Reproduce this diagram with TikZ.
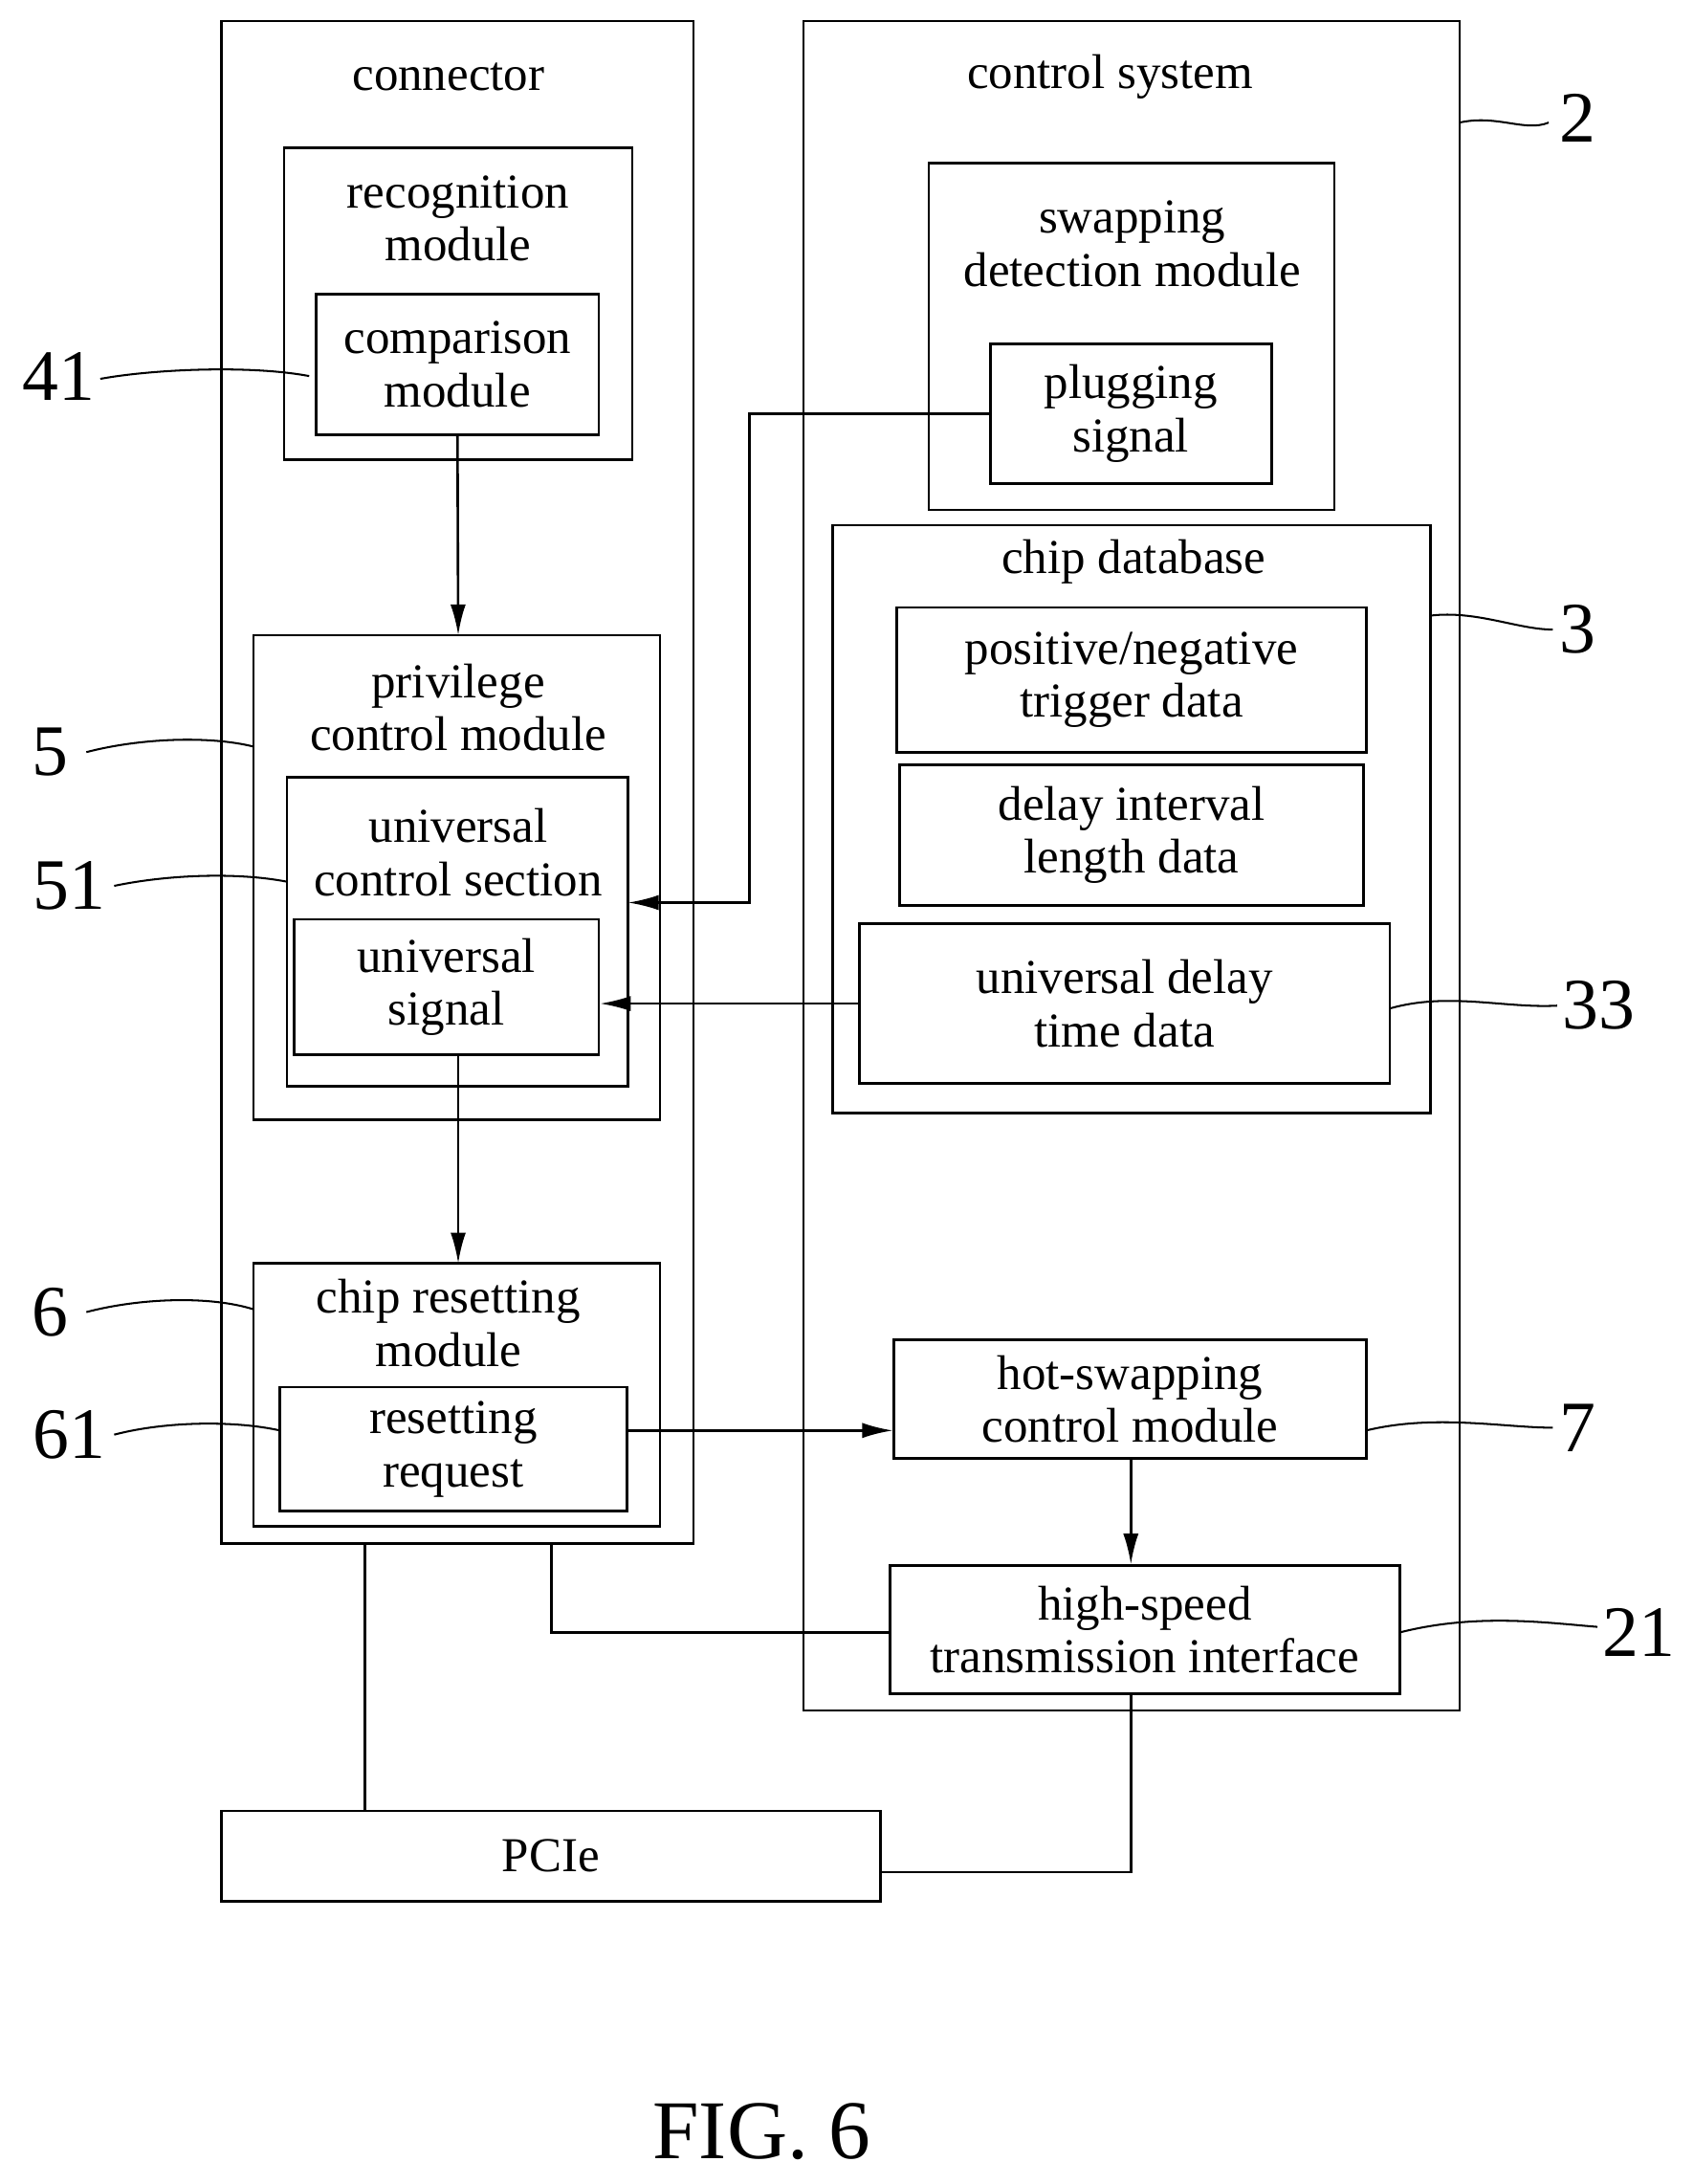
\documentclass[tikz,border=0pt]{standalone}
\usetikzlibrary{arrows.meta}
\usepackage{fontspec}
\setmainfont{Liberation Serif}
\begin{document}
\begin{tikzpicture}[x=1pt,y=-1pt,line width=1.8pt,
  box/.style={draw,rectangle},
  txt/.style={font=\fontsize{35}{38}\selectfont,align=center,inner sep=0},
  lab/.style={font=\fontsize{52}{52}\selectfont,inner sep=0},
  arr/.style={-{Latex[length=22pt,width=11pt]}},
  lead/.style={line width=1.4pt}]
\useasboundingbox (0,0) rectangle (1216,1568);
% outer boxes
\draw (159,15) rectangle (498,1108);
\node[txt] (tconn) at (322,55) {connector};
\draw (577,15) rectangle (1048,1228);
\node[txt] (tctrl) at (797,55) {control system};
% connector side
\draw (204,106) rectangle (454,330);
\node[txt] (trec) at (329,157) {recognition\\module};
\node[box,txt,minimum width=203pt,minimum height=101pt] (cmp) at (328.5,261.5) {comparison\\module};
\draw (182,456) rectangle (474,804);
\coordinate (priv) at (329,456);
\node[txt] (tpriv) at (329,508) {privilege\\control module};
\draw (206,558) rectangle (451,780);
\coordinate (ucs) at (451,648);
\node[txt] (tucs) at (329,612) {universal\\control section};
\node[box,txt,minimum width=219pt,minimum height=97pt] (usig) at (320.5,708.5) {universal\\signal};
\draw (182,907) rectangle (474,1096);
\coordinate (crm) at (329,907);
\node[txt] (tcrm) at (322,950) {chip resetting\\module};
\node[box,txt,minimum width=249pt,minimum height=89pt] (rr) at (325.5,1040.5) {resetting\\request};
% control side
\draw (667,117) rectangle (958,366);
\node[txt] (tswap) at (813,175) {swapping\\detection module};
\node[box,txt,minimum width=202pt,minimum height=100pt] (plug) at (812,297) {plugging\\signal};
\draw (598,377) rectangle (1027,799);
\node[txt] (tdb) at (814,403) {chip database};
\node[box,txt,minimum width=337pt,minimum height=104pt] (pn) at (812.5,488) {positive/negative\\trigger data};
\node[box,txt,minimum width=333pt,minimum height=101pt] (di) at (812.5,599.5) {delay interval\\length data};
\node[box,txt,minimum width=381pt,minimum height=115pt] (ud) at (807.5,720.5) {universal delay\\time data};
\node[box,txt,minimum width=339pt,minimum height=85pt] (hs) at (811.5,1004.5) {hot-swapping\\control module};
\node[box,txt,minimum width=366pt,minimum height=92pt] (hst) at (822,1170) {high-speed\\transmission interface};
\node[box,txt,minimum width=473pt,minimum height=65pt] (pcie) at (395.5,1332.5) {PCIe};
% connectors
\draw[arr] (cmp.south) -- (priv);
\draw[arr] (plug.west) -- (538,297) -- (538,648) -- (ucs);
\draw[arr] (ud.west) -- (usig.east |- ud.west);
\draw[arr] (usig.south -| crm) -- (crm);
\draw[arr] (rr.east |- 0,1027) -- (hs.west |- 0,1027);
\draw[arr] (hs.south -| 812,0) -- (hst.north -| 812,0);
\draw (396,1108) -- (396,1172) -- (hst.west |- 0,1172);
\draw (262,1108) -- (pcie.north -| 262,0);
\draw (hst.south -| 812,0) -- (812,1344) -- (pcie.east |- 0,1344);
% labels
\node[lab] (l2) at (1133,85) {2};
\draw[lead] (1048,88) .. controls (1075,82) and (1095,95) .. (1112,88);
\node[lab] (l3) at (1133,452) {3};
\draw[lead] (1027,442) .. controls (1060,438) and (1090,452) .. (1115,452);
\node[lab] (l33) at (1148,722) {33};
\draw[lead] (998,724) .. controls (1040,712) and (1080,724) .. (1118,722);
\node[lab] (l7) at (1133,1025) {7};
\draw[lead] (981,1027) .. controls (1030,1015) and (1080,1025) .. (1115,1025);
\node[lab] (l21) at (1177,1172) {21};
\draw[lead] (1005,1172) .. controls (1060,1158) and (1110,1165) .. (1147,1168);
\node[lab] (l41) at (42,270) {41};
\draw[lead] (72,272) .. controls (110,265) and (180,262) .. (222,270);
\node[lab] (l5) at (36,540) {5};
\draw[lead] (62,540) .. controls (100,530) and (150,528) .. (182,536);
\node[lab] (l51) at (50,636) {51};
\draw[lead] (82,636) .. controls (120,628) and (170,626) .. (206,633);
\node[lab] (l6) at (36,942) {6};
\draw[lead] (62,942) .. controls (100,932) and (150,930) .. (182,940);
\node[lab] (l61) at (50,1030) {61};
\draw[lead] (82,1030) .. controls (120,1020) and (170,1020) .. (201,1027);
\node[font=\fontsize{60}{60}\selectfont] (fig) at (547,1530) {FIG. 6};
\end{tikzpicture}
\end{document}
